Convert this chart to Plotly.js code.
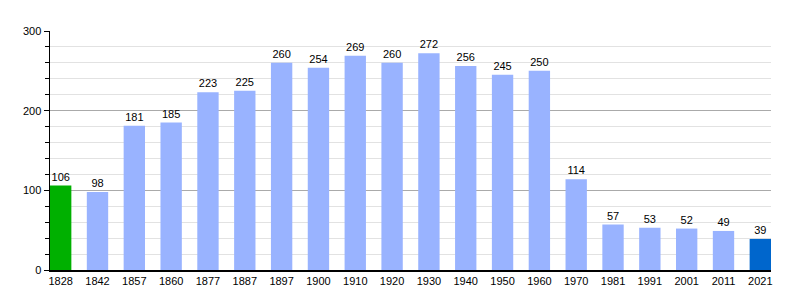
<!DOCTYPE html>
<html><head><meta charset="utf-8">
<script src="https://cdn.plot.ly/plotly-3.0.1.min.js"></script>
<style>body{margin:0;padding:0;background:#fff}#c{width:800px;height:300px}</style>
</head><body><div id="c"></div>
<script>
const years = ["1828","1842","1857","1860","1877","1887","1897","1900","1910","1920","1930","1940","1950","1960","1970","1981","1991","2001","2011","2021"];
const population = [106,98,181,185,223,225,260,254,269,260,272,256,245,250,114,57,53,52,49,39];
const colors = years.map((y,i)=> i===0 ? '#00b000' : (i===years.length-1 ? '#0066cc' : '#99b3ff'));
const xs = years.map((y,i)=>i);
Plotly.newPlot('c', [{
  type:'bar', x: xs, y: population, width:0.58,
  marker:{color:colors, line:{width:0}},
  text: population.map(String), textposition:'outside', cliponaxis:false,
  textfont:{family:'Liberation Sans, Arial, sans-serif', size:11, color:'#000000'},
  hoverinfo:'none'
}], {
  width:800, height:300,
  margin:{l:50, r:29, t:31, b:30},
  paper_bgcolor:'#fff', plot_bgcolor:'#fff',
  showlegend:false,
  font:{family:'Liberation Sans, Arial, sans-serif', size:11, color:'#000000'},
  xaxis:{range:[-0.29, 19.29], tickmode:'array', tickvals:xs, ticktext:years,
    showgrid:false, zeroline:false, showline:true, linecolor:'#000', linewidth:1.5,
    ticks:'', tickfont:{size:11, color:'#000000'}},
  yaxis:{range:[0,300], tickvals:[0,100,200,300], showgrid:true, gridcolor:'#aaaaaa', gridwidth:1,
    zeroline:false, showline:true, linecolor:'#000', linewidth:1.5, ticks:'outside', ticklen:5, tickcolor:'#000',
    minor:{dtick:20, ticks:'outside', ticklen:4, tickcolor:'#000', showgrid:true, gridcolor:'#e2e2e2', gridwidth:1},
    tickfont:{size:11, color:'#000000'}}
}, {displayModeBar:false, staticPlot:true});
</script></body></html>
